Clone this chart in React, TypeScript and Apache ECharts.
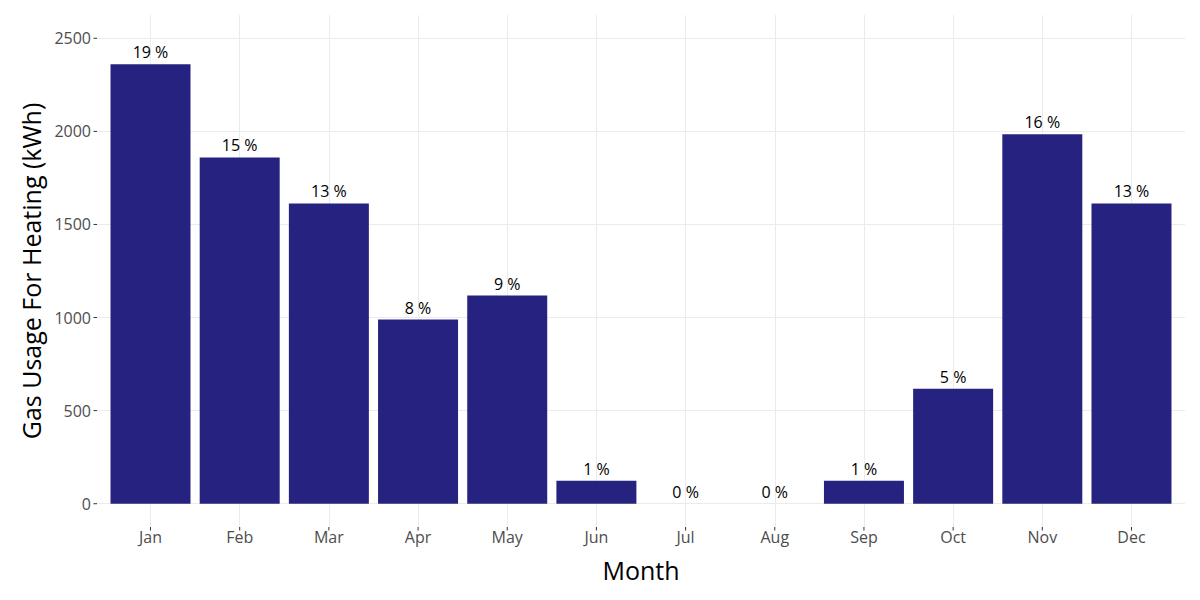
import React, { useEffect, useRef } from "react";
import * as echarts from "echarts";

const months = ["Jan", "Feb", "Mar", "Apr", "May", "Jun", "Jul", "Aug", "Sep", "Oct", "Nov", "Dec"];
const gasUsage = [2360, 1860, 1613, 989, 1118, 124, 0, 0, 124, 618, 1984, 1613];
const pctLabels = ["19 %", "15 %", "13 %", "8 %", "9 %", "1 %", "0 %", "0 %", "1 %", "5 %", "16 %", "13 %"];
const yTicks = [0, 500, 1000, 1500, 2000, 2500];

const X_MIN = -0.6;
const X_MAX = 11.6;
const Y_MIN = -125;
const Y_MAX = 2625;

const FONT = "'Open Sans', 'Noto Sans', sans-serif";
const BAR_COLOR = "#25237f";
const GRID_COLOR = "#ebebeb";
const TICK_COLOR = "#333333";

export default function App() {
  const ref = useRef<HTMLDivElement>(null);
  useEffect(() => {
    if (!ref.current) return;
    const chart = echarts.init(ref.current, undefined, { renderer: "svg" });
    const xIdx = months.map((_, i) => i);
    chart.setOption({
      animation: false,
      backgroundColor: "#ffffff",
      textStyle: { fontFamily: FONT },
      grid: { left: 97, right: 15, top: 15, bottom: 73, containLabel: false },
      xAxis: {
        type: "value",
        min: X_MIN,
        max: X_MAX,
        name: "Month",
        nameLocation: "middle",
        nameGap: 30,
        nameTextStyle: { fontSize: 25, color: "#000", fontFamily: FONT },
        axisLine: { show: false },
        axisTick: { show: false, customValues: xIdx },
        axisLabel: {
          customValues: xIdx,
          formatter: (v: number) => months[Math.round(v)] ?? "",
          fontSize: 16,
          color: "#4d4d4d",
          margin: 2,
          fontFamily: FONT,
        },
        splitLine: { show: true, lineStyle: { color: GRID_COLOR, width: 1 } },
      },
      yAxis: {
        type: "value",
        min: Y_MIN,
        max: Y_MAX,
        name: "Gas Usage For Heating (kWh)",
        nameLocation: "middle",
        nameGap: 46,
        nameTextStyle: { fontSize: 25, color: "#000", fontFamily: FONT },
        axisLine: { show: false },
        axisTick: { show: false, customValues: yTicks },
        axisLabel: {
          customValues: yTicks,
          formatter: (v: number) => String(v),
          fontSize: 16,
          color: "#4d4d4d",
          margin: 6,
          fontFamily: FONT,
        },
        splitLine: { show: true, lineStyle: { color: GRID_COLOR, width: 1 } },
      },
      series: [
        {
          type: "bar",
          data: gasUsage.map((v, i) => [i, v]),
          barWidth: 80,
          itemStyle: { color: BAR_COLOR },
          label: {
            show: true,
            position: "top",
            distance: 4,
            formatter: (p: any) => pctLabels[p.dataIndex],
            fontSize: 16,
            color: "#000",
            fontFamily: FONT,
          },
        },
        {
          type: "custom",
          clip: false,
          silent: true,
          data: yTicks.map((v) => [X_MIN, v]),
          renderItem: (_p: any, api: any) => {
            const c = api.coord([api.value(0), api.value(1)]);
            return {
              type: "line",
              shape: { x1: c[0] - 3.5, y1: c[1], x2: c[0], y2: c[1] },
              style: { stroke: TICK_COLOR, lineWidth: 1 },
            };
          },
        },
        {
          type: "custom",
          clip: false,
          silent: true,
          data: xIdx.map((i) => [i, Y_MIN]),
          renderItem: (_p: any, api: any) => {
            const c = api.coord([api.value(0), api.value(1)]);
            return {
              type: "line",
              shape: { x1: c[0], y1: c[1], x2: c[0], y2: c[1] + 3.5 },
              style: { stroke: TICK_COLOR, lineWidth: 1 },
            };
          },
        },
      ],
    });
    return () => chart.dispose();
  }, []);
  return <div ref={ref} style={{ width: 1200, height: 600, position: "absolute", left: 0, top: 0 }} />;
}
